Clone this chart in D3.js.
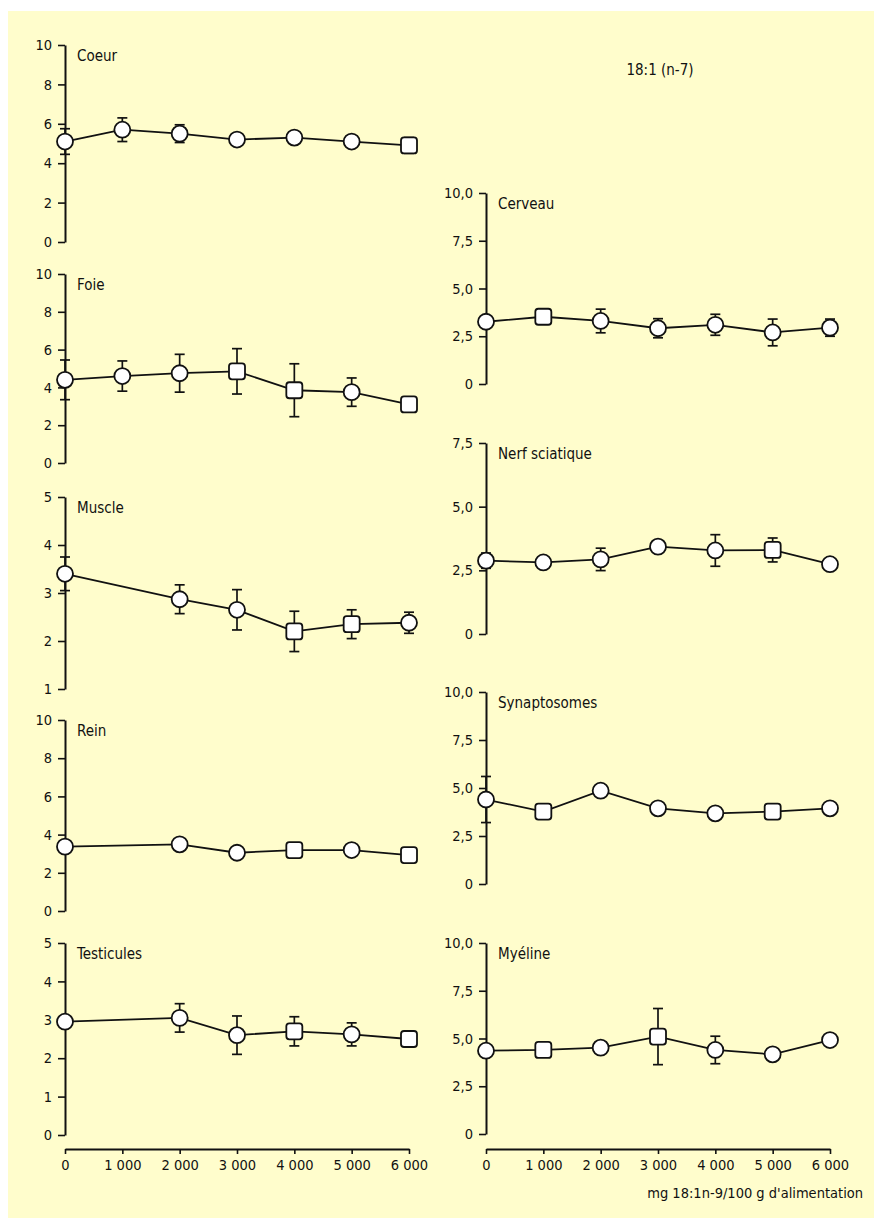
<!DOCTYPE html>
<html>
<head>
<meta charset="utf-8">
<script src="https://cdn.jsdelivr.net/npm/d3@7"></script>
<style>
  body { margin: 0; background: #fff; }
  svg { display: block; }
  text { font-family: "Liberation Sans Narrow", "DejaVu Sans Condensed", sans-serif; fill: #111; }
</style>
</head>
<body>
<script>
// doses (mg 18:1 n-9 / 100 g)
const doses = [0, 1000, 2000, 3000, 4000, 5000, 6000];
const doseLabels = ["0", "1 000", "2 000", "3 000", "4 000", "5 000", "6 000"];

// left column
const coeurMean = [5.1, 5.7, 5.5, 5.2, 5.3, 5.1, 4.9];
const coeurErr  = [0.65, 0.6, 0.45, 0.2, 0.2, 0.2, 0.4];
const coeurShape = ["o", "o", "o", "o", "o", "o", "s"];

const foieMean = [4.4, 4.6, 4.75, 4.85, 3.85, 3.75, 3.1];
const foieErr  = [1.05, 0.8, 1.0, 1.2, 1.4, 0.75, 0.4];
const foieShape = ["o", "o", "o", "s", "s", "o", "s"];

const muscleMean = [3.4, null, 2.87, 2.65, 2.2, 2.35, 2.38];
const muscleErr  = [0.35, null, 0.3, 0.42, 0.42, 0.3, 0.22];
const muscleShape = ["o", "o", "o", "o", "s", "s", "o"];

const reinMean = [3.37, null, 3.49, 3.05, 3.19, 3.19, 2.93];
const reinErr  = [0.2, null, 0.25, 0.2, 0.2, 0.2, 0.2];
const reinShape = ["o", "o", "o", "o", "s", "o", "s"];

const testMean = [2.95, null, 3.05, 2.6, 2.7, 2.62, 2.5];
const testErr  = [0.15, null, 0.37, 0.5, 0.38, 0.3, 0.1];
const testShape = ["o", "o", "o", "o", "s", "o", "s"];

// right column
const cerveauMean = [3.26, 3.52, 3.3, 2.92, 3.1, 2.7, 2.95];
const cerveauErr  = [0.3, 0.3, 0.62, 0.5, 0.55, 0.7, 0.45];
const cerveauShape = ["o", "s", "o", "o", "o", "o", "o"];

const nerfMean = [2.88, 2.81, 2.93, 3.43, 3.28, 3.3, 2.74];
const nerfErr  = [0.3, 0.2, 0.44, 0.2, 0.62, 0.47, 0.2];
const nerfShape = ["o", "o", "o", "o", "o", "s", "o"];

const synMean = [4.4, 3.77, 4.86, 3.94, 3.68, 3.77, 3.94];
const synErr  = [1.2, 0.3, 0.3, 0.3, 0.3, 0.3, 0.3];
const synShape = ["o", "s", "o", "o", "o", "s", "o"];

const myeMean = [4.36, 4.4, 4.52, 5.1, 4.4, 4.17, 4.92];
const myeErr  = [0.3, 0.3, 0.3, 1.47, 0.72, 0.3, 0.3];
const myeShape = ["o", "s", "o", "s", "o", "o", "o"];

const intTicks10 = [0, 2, 4, 6, 8, 10];
const intTicks5 = [0, 1, 2, 3, 4, 5];
const muscleTicks = [1, 2, 3, 4, 5];
const decTicks10 = [0, 2.5, 5, 7.5, 10];
const decTicks75 = [0, 2.5, 5, 7.5];

const width = 874, height = 1218;

const svg = d3.select("body").append("svg")
    .attr("width", width)
    .attr("height", height);

svg.append("rect")
    .attr("x", 8).attr("y", 11)
    .attr("width", width - 8).attr("height", height - 11)
    .attr("fill", "#fffdcc");

const comma = d => d === 0 ? "0" : d3.format(".1f")(d).replace(".", ",");
const plain = d => String(d);

// col: which x axis ; top/bottom: y pixel span of the y domain
const panels = [
  { name: "Coeur", mean: coeurMean, err: coeurErr, shape: coeurShape, domain: [0, 10], ticks: intTicks10, fmt: plain, col: 0, top: 45, bottom: 242 },
  { name: "Foie", mean: foieMean, err: foieErr, shape: foieShape, domain: [0, 10], ticks: intTicks10, fmt: plain, col: 0, top: 274, bottom: 463 },
  { name: "Muscle", mean: muscleMean, err: muscleErr, shape: muscleShape, domain: [1, 5], ticks: muscleTicks, fmt: plain, col: 0, top: 497, bottom: 689 },
  { name: "Rein", mean: reinMean, err: reinErr, shape: reinShape, domain: [0, 10], ticks: intTicks10, fmt: plain, col: 0, top: 720, bottom: 911 },
  { name: "Testicules", mean: testMean, err: testErr, shape: testShape, domain: [0, 5], ticks: intTicks5, fmt: plain, col: 0, top: 943, bottom: 1135 },
  { name: "Cerveau", mean: cerveauMean, err: cerveauErr, shape: cerveauShape, domain: [0, 10], ticks: decTicks10, fmt: comma, col: 1, top: 193, bottom: 384 },
  { name: "Nerf sciatique", mean: nerfMean, err: nerfErr, shape: nerfShape, domain: [0, 7.5], ticks: decTicks75, fmt: comma, col: 1, top: 443, bottom: 634 },
  { name: "Synaptosomes", mean: synMean, err: synErr, shape: synShape, domain: [0, 10], ticks: decTicks10, fmt: comma, col: 1, top: 692, bottom: 884 },
  { name: "Myéline", mean: myeMean, err: myeErr, shape: myeShape, domain: [0, 10], ticks: decTicks10, fmt: comma, col: 1, top: 943, bottom: 1134 }
];

const colX = [[65, 409], [486, 830]];
const xAxisY = 1149;

const xScales = colX.map(r => d3.scaleLinear().domain([0, 6000]).range(r));

panels.forEach(p => {
  const x = xScales[p.col];
  const y = d3.scaleLinear().domain(p.domain).range([p.bottom, p.top]);
  const g = svg.append("g");

  const ax = g.append("g")
      .attr("transform", `translate(${x(0)},0)`)
      .call(d3.axisLeft(y).tickValues(p.ticks).tickFormat(p.fmt).tickSize(7).tickSizeOuter(0).tickPadding(6));
  ax.select(".domain").attr("stroke", "#111").attr("stroke-width", 2);
  ax.selectAll(".tick line").attr("stroke", "#111").attr("stroke-width", 1.6);
  ax.selectAll(".tick text").attr("font-size", 14.5).style("font-family", null);

  g.append("text")
      .attr("x", x(0) + 12)
      .attr("y", p.top + 16)
      .attr("font-size", 15)
      .text(p.name);

  const pts = doses.map((d, i) => ({ d, m: p.mean[i], e: p.err[i], s: p.shape[i] }))
      .filter(o => o.m != null);

  g.append("path")
      .datum(pts)
      .attr("fill", "none")
      .attr("stroke", "#111")
      .attr("stroke-width", 1.8)
      .attr("d", d3.line().x(o => x(o.d)).y(o => y(o.m)));

  const eb = g.selectAll(".eb").data(pts.filter(o => o.e)).join("g").attr("stroke", "#111").attr("stroke-width", 1.7);
  eb.append("line")
      .attr("x1", o => x(o.d)).attr("x2", o => x(o.d))
      .attr("y1", o => y(o.m + o.e)).attr("y2", o => y(o.m - o.e));
  eb.append("line")
      .attr("x1", o => x(o.d) - 5).attr("x2", o => x(o.d) + 5)
      .attr("y1", o => y(o.m + o.e)).attr("y2", o => y(o.m + o.e));
  eb.append("line")
      .attr("x1", o => x(o.d) - 5).attr("x2", o => x(o.d) + 5)
      .attr("y1", o => y(o.m - o.e)).attr("y2", o => y(o.m - o.e));

  g.selectAll(".mk").data(pts).join("rect")
      .attr("x", o => x(o.d) - 8)
      .attr("y", o => y(o.m) - 8)
      .attr("width", 16).attr("height", 16)
      .attr("rx", o => o.s === "s" ? 3 : 8)
      .attr("fill", "#fff")
      .attr("stroke", "#111")
      .attr("stroke-width", 1.8);
});

// x axes
xScales.forEach(x => {
  const ax = svg.append("g")
      .attr("transform", `translate(0,${xAxisY})`)
      .call(d3.axisBottom(x).tickValues(doses).tickFormat((d, i) => doseLabels[i]).tickSize(5).tickSizeOuter(0).tickPadding(6));
  ax.select(".domain").attr("stroke", "#111").attr("stroke-width", 2);
  ax.selectAll(".tick line").attr("stroke", "#111").attr("stroke-width", 1.6);
  ax.selectAll(".tick text").attr("font-size", 14.5).style("font-family", null);
});

svg.append("text")
    .attr("x", 863).attr("y", 1198)
    .attr("text-anchor", "end")
    .attr("font-size", 14.5)
    .text("mg 18:1n-9/100 g d'alimentation");

svg.append("text")
    .attr("x", 660).attr("y", 75)
    .attr("text-anchor", "middle")
    .attr("font-size", 15)
    .text("18:1 (n-7)");
</script>
</body>
</html>
